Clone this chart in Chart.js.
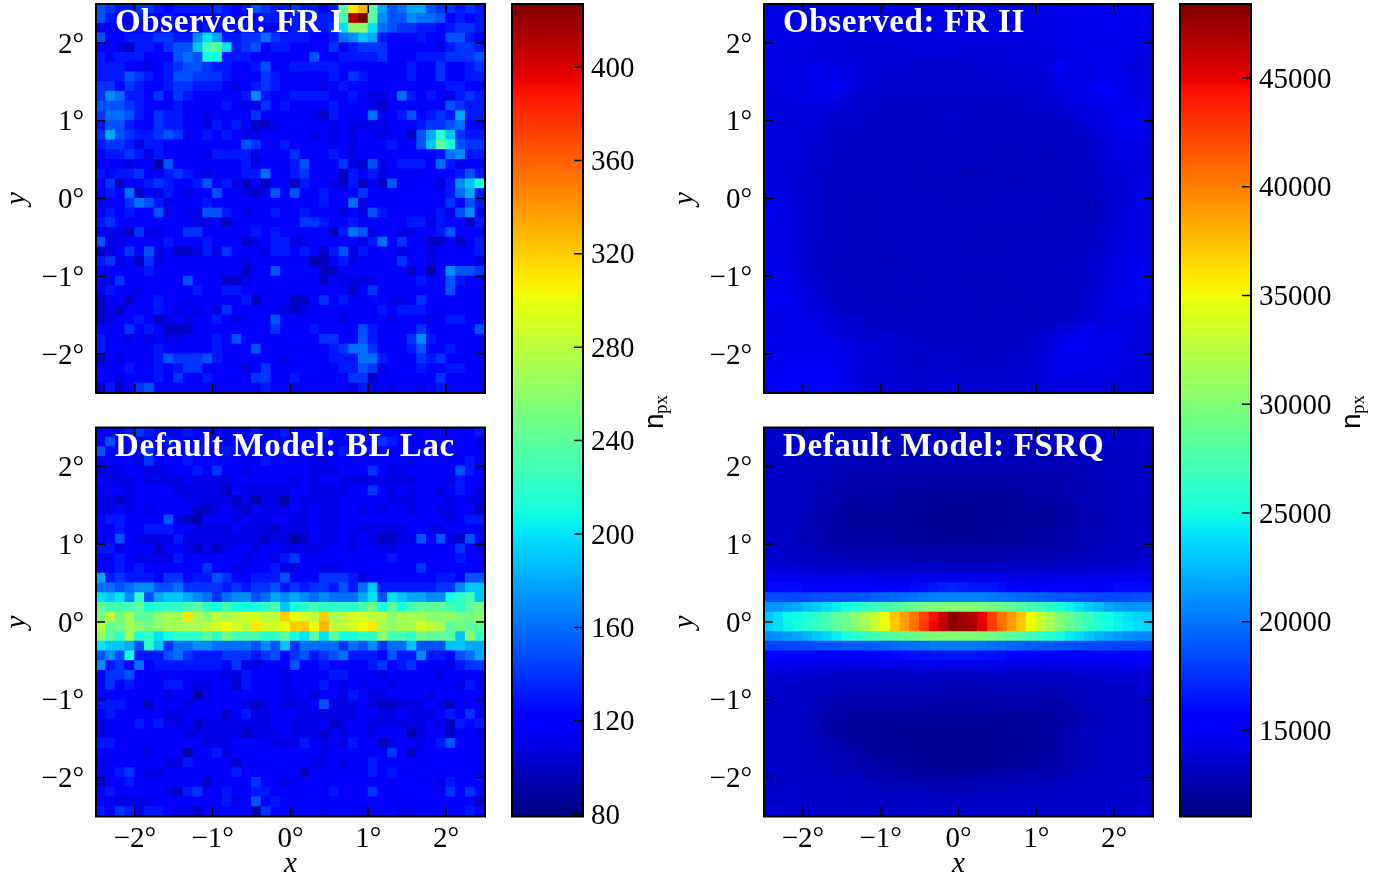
<!DOCTYPE html>
<html>
<head>
<meta charset="utf-8">
<title>Stacked maps</title>
<script src="https://cdn.jsdelivr.net/npm/chart.js@4/dist/chart.umd.min.js"></script>
<style>
html, body { margin: 0; background: #fff; overflow: hidden; }
canvas { position: absolute; }
</style>
</head>
<body>
<script>
// each char is one cell, base 36. rows run top to bottom, cols left to right
// counts = 80 + 10 * digit
const frOneRows = [
  "7655665455 5565457655 65545gnpga 78aa766565",
  "7544544544 4445444554 55555fxzg9 7798874545",
  "4444444444 4544454444 55556ciic8 7665545665",
  "7445556655 9ca5566865 5544589ba5 4445447754",
  "4432554677 bfgc567455 4444645666 4444435665",
  "5455544478 7dd5554444 4474455556 4445556667",
  "5554434567 7655445744 5555544444 4454464456",
  "5557654577 6665444654 4444546544 4454464455",
  "6646544566 5554345654 4443454444 4444445544",
  "6985546465 4444459544 5555445433 4854543565",
  "7776544454 4445433645 4444544432 4444447655",
  "6887546554 4344446444 4432544484 4574565a55",
  "5775446554 4354542234 4444343333 4445667844",
  "6a76556763 4545433444 4434343443 4427aeb655",
  "5665355444 4444476445 4444343444 5447bgd766",
  "4556535444 4355553444 6444543444 4444458955",
  "4443441744 4444453444 5744463273 4555485344",
  "5455644565 4344455844 5644425453 4444444575",
  "4624456544 5745324244 2544325242 74444359bd",
  "4548243543 4474432374 7445444644 44444458a5",
  "4446875344 4544444444 4445448344 4444446475",
  "4545447343 3775434454 4544434375 4444453794",
  "5644444444 3342444444 4665445444 4455354425",
  "4332633446 6444445454 4444258734 4334457444",
  "7334444544 4544423455 3344444358 4644224245",
  "2346473422 3536444355 4542573544 4344344445",
  "5634263444 4444434444 4412453444 4644344443",
  "4444454444 4444424474 4442244444 4424149776",
  "4464444447 4442234444 4442433334 4445447544",
  "4544344444 5445544444 4444442464 4444447444",
  "2442445443 4444452444 2246454444 3346444444",
  "2324445434 3436444443 2344444445 4555444444",
  "2344542343 4454344474 4444434444 3444345544",
  "4446454222 4444444464 4454444754 4446444447",
  "5443434334 4454744444 4446644754 4469544444",
  "5444445444 4454447444 4444568864 4457445444",
  "2434445766 6754444443 4444555885 4446564444",
  "4445445456 6444434644 4444455763 4445445544",
  "4434445464 4544446644 5444446624 4444464444",
  "2524674444 4444444544 4444443544 3443454444"
];

const blLacRows = [
  "4445654445 4444345445 4445444444 4444444445",
  "4744444544 4444444444 4444445446 5444444443",
  "7444464444 5445454445 4444454454 4444444444",
  "4444364445 4444444544 4433444444 4434444454",
  "3334433344 5464434444 4433344464 3344444754",
  "4333433334 3333444444 3434433333 3334443544",
  "3443444433 3332433333 4433334464 3434434543",
  "3323444443 3333231331 4333344444 3334443433",
  "3343434444 2234324333 4343344343 4434433442",
  "4554444732 1444343344 3343344444 4444443455",
  "4454455544 3333433323 3343344333 3344334444",
  "3474333353 3333333233 1243343432 2337473274",
  "5534442443 2323443443 3333443443 3444444643",
  "4454333354 4444434435 6444444444 5444444544",
  "4454544444 4644344453 3443344444 4446444444",
  "a565554664 5576445557 4446665344 4444455477",
  "8878997786 6665656675 65665758b5 55555669bb",
  "cbc9e7abba 98689978a9 a989888ac7 cbaa99defb",
  "gfffgdeeef gedfdddefb defeeeefhd gdfgggfegh",
  "hkhjggijjn jikjkllkko mlkojkllkk ijjjiiihhi",
  "kghjihijjj jklmlknllm oompkklmnj ijjlkjghgg",
  "igejdecdee egehfffeeg dcgcgddeei ffehgggbie",
  "cbba7eb688 998888797b 6888868796 88b777bbaa",
  "797d555786 5556665674 6756785554 755955478a",
  "9564845555 5554633444 7445444456 4564443566",
  "4667444444 4443354443 4444554443 4444434444",
  "4645444554 3344254443 4445434344 3444444354",
  "4444444344 1344444443 3434435433 4444344444",
  "5554424443 4444432343 3347333432 2333432444",
  "4544444334 4442453344 4333333443 3433345464",
  "3444545334 2333333344 3334234433 3333432545",
  "3444444443 3333323334 3332434434 4413442443",
  "5544444444 4333444433 3543435442 3443457444",
  "4444434441 4453444444 4443444444 6424444444",
  "3444444335 4444244444 4433434454 4444444444",
  "4456433444 4444544444 4244444454 5444444444",
  "2445444444 4244446443 4444444444 4444435444",
  "4544444325 6445445544 4444544464 4444446464",
  "4433334444 4445347454 4444444444 4444444442",
  "5465355433 2444441644 4443444344 4334444454"
];

// counts = 12000 + 100 * digit
const frTwoRows = [
  "nnnnnnmmmm nnnnnnnnpq pnnnnnnnoo ppqrssrqqq",
  "oonnnnmmmm mmmmmmnnop onnmmmnnoo pqrstusrqq",
  "oonnnmmmml lmmmmmmnoo nmmmmmnnnn opqrstsrqq",
  "onnnnmmmll lllllmmmmn mmmmlmmmnn opqrrrqqpp",
  "nnmmmlkkjj jjjjkkkkkk jjjjjkkkll nooopppppp",
  "mmmmmlkjjj jiiiihhhhi iiiiijjkkl noopqqoonn",
  "nnnnoqpomk kjihhggggg ghhhhiiiln xrppqqpnlm",
  "nnnnqspqol jhhgggggff ffggghhhil pponqrqpnm",
  "mmnoprtuqk hgggffffff fffggghhik noprxwsqon",
  "lmmnnpqpmi gfffeeeeee eeeeefffgj lnoqtuspon",
  "lllmmmmkih gfeeeeeeee eeeeeeefgh jlmnopqrrp",
  "kklllkiggf eeddddddee edddddddef ghjlmoruso",
  "kkkkkjgfee eeddddddeg edccddddee efhkmoruso",
  "jjjjjifeee dddddddcee dcccccdddd deegjmprrn",
  "kkjjigfedd dddddcccdd cccccccccb dddfilnoom",
  "kkjjigeddd dddcccccbd cccbbbbcba cddeikmnnl",
  "lljjifeddc cccccbbccc cbbbbbbbbb bcddfjkmml",
  "mkjigfedcc cccccbbbcb a9bbbbb9bb bbcdeijlml",
  "nlkihfdccc ccccccbabb bbbbbb9bbb bbbdehjlnn",
  "nmlihfdccc ccccccccbc bbbbbbbbcb bbcdeghkpn",
  "pnmkifdccb bbcccccccb bbbcccccbc bbb9dfilpo",
  "rpnkigdccb bbccccdcbc cccccccccb bbbbdfilon",
  "pnljhfdcbb bbccccccdb bcccccbbbb bbbcehjlnm",
  "oonkhfdcbb bbcccccbdc ccbbbbbbbb bcccehkmnm",
  "oonkgedcbb 9bccccddcc bbbbbbbbcc cccdfiloon",
  "pnmjgedcbb bbbbccddcd bbbbbcccdd dddefjmppn",
  "qpokhedcbb bbb9bccddd cccccccdde eeefgkmqrp",
  "qrpmifdbbb bbbbbbbccc bbbbcccddd eeeghlorsq",
  "rsqnjgedcb bbbbccbccc bbbbbcdddd deefilprsq",
  "stromhedcc cbbbcccccb ccbbbbbdcd eeehjmqrrq",
  "rutqmihedc bbbb9bbbcc cbbbbbbbbc ddeglnpqrq",
  "qqrpnliged ccbcbcccbc cbbbccbbcd eefilnoppn",
  "oopqonljgf eddddcbdcb ccccccccdd ffhjlmnnml",
  "ppppqomkig fefeeddddd dcccddddff jkosopnnml",
  "pqqrrqoljh hhggfeeeed ddccdddeik psutqppnml",
  "qrrstrqqom jkhhggfeef edcdddfghl sutrqqomlk",
  "rsttuttrrn kihgfedffg eddeefghjn rrqqpoonll",
  "rtuuvutsqm jiihgfeffg feeefgghkn qqppoonlkj",
  "stuvwwvsql ijihgffgii ffffhhhijm oonnnmlkkj",
  "rsuvwwvsqn jiiihgghii hgghhhhijl mmmmmlkjji"
];

// counts = 11000 + 150 * digit
const fsrqTopRows = [
  "hhhhgggggf ffffffffff ffffffffff fgggggghhh",
  "hhhggggfff ffffffffff ffffffffff fffggggghh",
  "ggggggfffe eeeeeeeeed deeeeeeeee eefffffggg",
  "ggggfffeed dddddddddd dddddddddd ddeeffffgg",
  "ggfffeedcc ccccbbbbbb bbbbbbbccc cddeeeffgg",
  "gfffeedcca aaaaaaa999 99999aaaaa accddeeffg",
  "gfffedcbaa 9999888777 77778889aa abccdeeffg",
  "ffffedcb98 8887776666 6666667889 abcddeefff",
  "ffffecb987 7776666655 5566666777 89bcdeefff",
  "fffedba987 7766665555 5555666777 89abcdefff",
  "fffedca877 7777666555 5556667778 9abcdeffff",
  "ggfedcb988 8888777666 6667778889 abcddeefgg",
  "ggffedcbaa a999a99989 9999999aaa bccdeeffgg",
  "hhgfffeddc ccccccbcbb bbbbbccccc ddeefffghh",
  "jjjiihhhgg gggggggfff ffffgggggg ghhhiiijjj",
  "ppppoonnnn nnmmmnnnoo oonnnnmmnn nnoooooppp"
];

// the bright band, counts in hundreds
const fsrqBandRows = [
  [160,160,160,160,156,155,155,155,156,156,157,158,158,158,158,160,162,165,168,170,168,165,165,165,160,158,158,157,157,156,155,155,155,155,155,155,160,160,160,160],
  [185,185,183,183,184,185,186,187,188,188,190,192,194,196,198,200,202,204,205,205,205,205,204,202,200,198,196,194,192,190,188,187,186,185,184,184,183,184,185,186],
  [212,212,215,220,228,232,238,244,250,256,262,268,272,278,284,290,294,298,300,300,300,300,298,294,290,284,278,272,266,260,254,246,240,232,226,218,214,212,212,212],
  [230,238,248,250,256,262,270,285,290,305,318,330,350,372,390,405,425,445,462,480,475,468,450,425,405,390,372,350,332,318,298,288,275,268,255,250,245,240,236,232],
  [232,240,247,252,258,264,272,283,292,303,316,332,348,370,388,407,428,448,465,478,478,470,452,428,407,388,370,348,330,316,300,286,276,266,256,250,246,242,238,234],
  [208,210,214,218,224,230,236,244,252,258,264,270,275,280,285,290,294,298,300,300,300,298,296,292,288,282,276,270,264,258,250,244,238,230,224,218,214,210,208,208],
  [182,182,183,184,184,186,187,188,190,190,191,192,194,196,197,199,200,202,203,203,203,202,200,198,197,195,194,192,190,189,187,186,185,184,184,183,182,182,182,182],
  [152,152,153,153,154,155,155,155,156,156,156,157,158,159,160,162,163,164,165,165,165,164,163,162,160,158,157,156,156,155,155,155,154,154,153,153,152,152,152,152]
];

const fsrqBottomRows = [
  "ooonnnnnmm mmmmmnnnoo oonnnmmmmn nnnnoooopp",
  "jjjihhggff ffffggggff ffggggffgg ghhhiiijjj",
  "ihhggffeee eeeddeeddd ddddddddee eefgghhhii",
  "hgggffedcc ccccccccbb bbbbccccbb bddeffgghh",
  "ggggfecbaa aaaaaaa999 99aaaaaa99 9bdefggggg",
  "gggfecaa98 8888777777 7777778888 9abdefgggg",
  "gggfec9887 7766666666 6666667778 9acdefgggg",
  "gggfeda976 6665555555 5555566678 aceefggggg",
  "gggffecb98 7665555555 5555666778 acdefggggg",
  "ggggfedcba 9777665555 4555666779 acdefggggg",
  "ggggffedcb a998766555 4455667899 bcdefggggg",
  "ggggggfedd cba9888776 778899aabb cdeffggggg",
  "ggggggfffe edcccbbbbb bbccddddee effggggggg",
  "hhhggggggf ffeeeeeddd ddeeeeeeff fgggggghhh",
  "hhhhhggggg gggfffffff ffffffgggg ggggghhhhh",
  "iiihhhgggg ggggggffgg gggggggggg ggghhhhhii"
];

const degreeTicks = [-2, -1, 0, 1, 2];
const leftBarTicks = [80, 120, 160, 200, 240, 280, 320, 360, 400];
const rightBarTicks = [15000, 20000, 25000, 30000, 35000, 40000, 45000];
const leftRange = [79, 427];
const rightRange = [11044, 48404];

const SERIF = "Liberation Serif";
const TICK_FONT = { family: SERIF, size: 29 };
const AXIS_FONT = { family: SERIF, size: 29, style: "italic" };

function decodeRow(row, base, step) {
  const cells = row.replace(/ /g, "");
  if (cells.length !== 40) throw new Error("bad row " + row);
  return [...cells].map(c => base + step * parseInt(c, 36));
}

const frOneValues = frOneRows.map(r => decodeRow(r, 80, 10));
const blLacValues = blLacRows.map(r => decodeRow(r, 80, 10));
const frTwoValues = frTwoRows.map(r => decodeRow(r, 12000, 100));
const fsrqValues = [
  ...fsrqTopRows.map(r => decodeRow(r, 11000, 150)),
  ...fsrqBandRows.map(r => r.map(v => v * 100)),
  ...fsrqBottomRows.map(r => decodeRow(r, 11000, 150))
];

function ramp(t, pts) {
  for (let i = 1; i < pts.length; i++) {
    if (t <= pts[i][0]) {
      const a = pts[i - 1], b = pts[i];
      return a[1] + (b[1] - a[1]) * (t - a[0]) / (b[0] - a[0]);
    }
  }
  return pts[pts.length - 1][1];
}

function jet(t) {
  t = Math.max(0, Math.min(1, t));
  const r = ramp(t, [[0, 0], [0.35, 0], [0.66, 1], [0.89, 1], [1, 0.5]]);
  const g = ramp(t, [[0, 0], [0.125, 0], [0.375, 1], [0.64, 1], [0.91, 0], [1, 0]]);
  const b = ramp(t, [[0, 0.5], [0.11, 1], [0.34, 1], [0.65, 0], [1, 0]]);
  return `rgb(${Math.round(r * 255)},${Math.round(g * 255)},${Math.round(b * 255)})`;
}

// inward ticks and the black box round each plot
const framePlugin = {
  id: "frame",
  afterDatasetsDraw(chart, args, opts) {
    const { ctx, chartArea: a, scales } = chart;
    ctx.save();
    ctx.strokeStyle = "#000";
    ctx.lineWidth = 1.5;
    ctx.beginPath();
    (opts.xTicks || []).forEach(v => {
      const x = scales.x.getPixelForValue(v);
      ctx.moveTo(x, a.bottom); ctx.lineTo(x, a.bottom - 9);
      ctx.moveTo(x, a.top); ctx.lineTo(x, a.top + 9);
    });
    (opts.yTicks || []).forEach(v => {
      const y = scales.y.getPixelForValue(v);
      ctx.moveTo(a.right, y); ctx.lineTo(a.right - 9, y);
      if (opts.leftTicks) { ctx.moveTo(a.left, y); ctx.lineTo(a.left + 9, y); }
    });
    ctx.stroke();
    ctx.lineWidth = 2;
    ctx.strokeRect(a.left, a.top, a.right - a.left, a.bottom - a.top);
    ctx.restore();
  },
  afterDraw(chart, args, opts) {
    const { ctx, chartArea: a } = chart;
    if (opts.label) {
      ctx.save();
      ctx.fillStyle = "#fff";
      ctx.font = `bold 33px "${SERIF}"`;
      ctx.letterSpacing = "0.6px";
      ctx.textBaseline = "alphabetic";
      ctx.fillText(opts.label, a.left + 19, a.top + 28);
      ctx.restore();
    }
    if (opts.unitX) {
      ctx.save();
      ctx.translate(opts.unitX, a.top + 425);
      ctx.rotate(-Math.PI / 2);
      ctx.fillStyle = "#000";
      ctx.font = '28px "Liberation Sans"';
      ctx.fillText("n", 0, 0);
      ctx.font = `19px "${SERIF}"`;
      ctx.fillText("px", 15, 4);
      ctx.restore();
    }
  }
};

function setTicks(list) {
  return scale => { scale.ticks = list.map(value => ({ value })); };
}

// chart.js keeps room for half a tick label past the axis ends, drop that
function fixedSize(s, size) {
  if (s.isHorizontal()) s.height = size; else s.width = size;
  s.paddingTop = s.paddingBottom = s.paddingLeft = s.paddingRight = 0;
}

function degreeLabel(v) {
  return (v < 0 ? "\u2212" + Math.abs(v) : v) + "\u00b0";
}

function heatmap(values, range, label, left, top, showX) {
  const cells = [], colors = [];
  values.forEach((row, r) => {
    row.forEach((v, c) => {
      cells.push({ x: -2.5 + (c + 0.5) * 0.125, y: [2.5 - (r + 1) * 0.125, 2.5 - r * 0.125] });
      colors.push(jet((v - range[0]) / (range[1] - range[0])));
    });
  });

  const canvas = document.createElement("canvas");
  const boxTop = Math.floor(top) - 4;
  const xSpace = showX ? 882 - (top + 389) : 0;
  canvas.width = 96 + 389 + 6;
  canvas.height = 4 + 389 + (top - Math.floor(top)) + (showX ? xSpace : 6);
  canvas.style.left = (left - 96) + "px";
  canvas.style.top = boxTop + "px";
  document.body.appendChild(canvas);

  return new Chart(canvas, {
    type: "bar",
    data: { datasets: [{ data: cells, backgroundColor: colors, borderWidth: 0, barPercentage: 1, categoryPercentage: 1, inflateAmount: 0.6 }] },
    options: {
      responsive: false,
      animation: false,
      layout: { padding: { left: 0, right: 6, top: 4 + top - Math.floor(top), bottom: showX ? 0 : 6 } },
      plugins: {
        legend: { display: false },
        tooltip: { enabled: false },
        frame: { label, xTicks: degreeTicks, yTicks: degreeTicks, leftTicks: true }
      },
      scales: {
        x: {
          type: "linear", min: -2.5, max: 2.5, offset: false,
          grid: { display: false, drawTicks: false, offset: false },
          border: { display: false },
          afterBuildTicks: setTicks(degreeTicks),
          afterFit: s => fixedSize(s, xSpace),
          ticks: { display: showX, font: TICK_FONT, color: "#000", padding: 5, maxRotation: 0, autoSkip: false, callback: degreeLabel },
          title: { display: showX, text: "x", color: "#000", font: AXIS_FONT, padding: 0 }
        },
        y: {
          type: "linear", min: -2.5, max: 2.5,
          grid: { display: false, drawTicks: false },
          border: { display: false },
          afterBuildTicks: setTicks(degreeTicks),
          afterFit: s => fixedSize(s, 96),
          ticks: { font: TICK_FONT, color: "#000", padding: 12, labelOffset: 2, autoSkip: false, callback: degreeLabel },
          title: { display: true, text: "y", color: "#000", font: AXIS_FONT, padding: 0 }
        }
      }
    },
    plugins: [framePlugin]
  });
}

function colorbar(range, tickValues, left, width, unitX) {
  const canvas = document.createElement("canvas");
  canvas.width = width;
  canvas.height = 882;
  canvas.style.left = (left - 2) + "px";
  canvas.style.top = "0px";
  document.body.appendChild(canvas);

  return new Chart(canvas, {
    type: "bar",
    data: {
      labels: ["n"],
      datasets: [{
        data: [range],
        barPercentage: 1,
        categoryPercentage: 1,
        borderWidth: 0,
        backgroundColor: ctx => {
          const area = ctx.chart.chartArea;
          if (!area) return "#000";
          const grad = ctx.chart.ctx.createLinearGradient(0, area.bottom, 0, area.top);
          for (let i = 0; i <= 100; i++) grad.addColorStop(i / 100, jet(i / 100));
          return grad;
        }
      }]
    },
    options: {
      responsive: false,
      animation: false,
      layout: { padding: { left: 2, top: 4, bottom: 65.5, right: 0 } },
      plugins: {
        legend: { display: false },
        tooltip: { enabled: false },
        frame: { yTicks: tickValues, unitX: unitX - left + 2 }
      },
      scales: {
        x: { display: false },
        y: {
          position: "right",
          min: range[0], max: range[1],
          grid: { display: false, drawTicks: false },
          border: { display: false },
          afterBuildTicks: setTicks(tickValues),
          afterFit: s => fixedSize(s, width - 2 - 71),
          ticks: { font: TICK_FONT, color: "#000", padding: 8, labelOffset: 2, autoSkip: false, callback: v => String(v) }
        }
      }
    },
    plugins: [framePlugin]
  });
}

heatmap(frOneValues, leftRange, "Observed: FR I", 96, 4, false);
heatmap(blLacValues, leftRange, "Default Model: BL Lac", 96, 427.5, true);
heatmap(frTwoValues, rightRange, "Observed: FR II", 764, 4, false);
heatmap(fsrqValues, rightRange, "Default Model: FSRQ", 764, 427.5, true);
colorbar(leftRange, leftBarTicks, 512, 170, 663);
colorbar(rightRange, rightBarTicks, 1180, 211, 1360);
</script>
</body>
</html>
